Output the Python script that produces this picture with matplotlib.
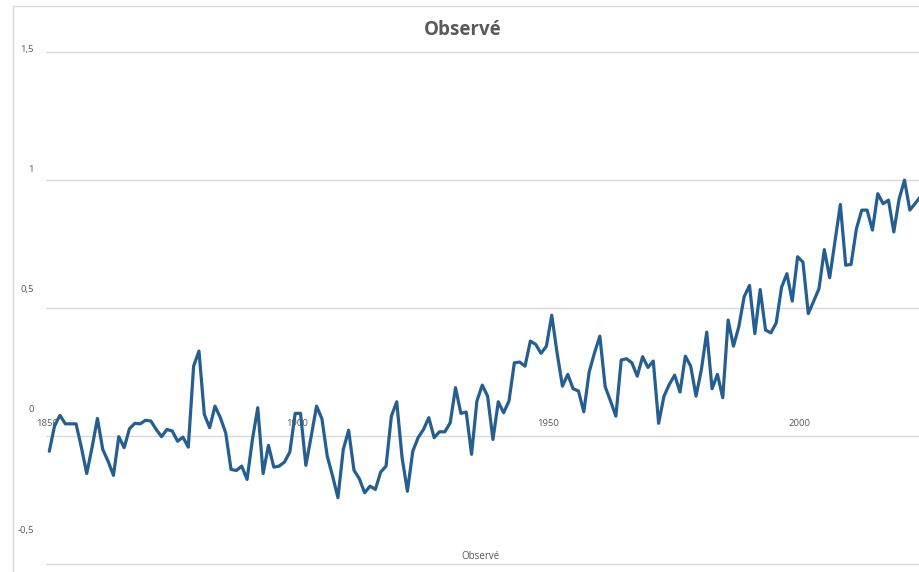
import numpy as np
import matplotlib
matplotlib.use("Agg")
import matplotlib.pyplot as plt
from matplotlib.lines import Line2D
import matplotlib.transforms as mtransforms

# ---- data ----
start_year = 1850
observe = [
    -0.059, 0.042, 0.081, 0.048, 0.048, 0.048, -0.044, -0.146, -0.044, 0.069,
    -0.052, -0.098, -0.153, -0.002, -0.045, 0.029, 0.050, 0.048, 0.062, 0.059,
    0.026, -0.002, 0.026, 0.020, -0.020, -0.004, -0.043, 0.273, 0.332, 0.085,
    0.033, 0.117, 0.072, 0.013, -0.130, -0.134, -0.117, -0.169, -0.013, 0.111,
    -0.146, -0.036, -0.121, -0.117, -0.101, -0.062, 0.089, 0.089, -0.114, 0.000,
    0.117, 0.068, -0.078, -0.156, -0.240, -0.052, 0.023, -0.133, -0.166, -0.221,
    -0.195, -0.208, -0.140, -0.117, 0.078, 0.134, -0.084, -0.215, -0.059, -0.006,
    0.026, 0.072, -0.006, 0.017, 0.017, 0.052, 0.189, 0.089, 0.094, -0.071,
    0.137, 0.199, 0.156, -0.013, 0.134, 0.091, 0.137, 0.286, 0.289, 0.273,
    0.371, 0.358, 0.323, 0.351, 0.472, 0.325, 0.195, 0.241, 0.185, 0.176,
    0.095, 0.250, 0.325, 0.390, 0.193, 0.137, 0.078, 0.297, 0.302, 0.286,
    0.234, 0.310, 0.268, 0.293, 0.050, 0.156, 0.202, 0.238, 0.172, 0.312,
    0.273, 0.156, 0.260, 0.406, 0.185, 0.241, 0.150, 0.453, 0.351, 0.427,
    0.544, 0.588, 0.400, 0.572, 0.414, 0.403, 0.442, 0.581, 0.634, 0.527,
    0.700, 0.679, 0.478, 0.527, 0.575, 0.728, 0.618, 0.761, 0.904, 0.667,
    0.670, 0.809, 0.882, 0.882, 0.804, 0.946, 0.907, 0.921, 0.797, 0.926,
    0.999, 0.882, 0.908, 0.935,
]
years = np.arange(start_year, start_year + len(observe))
y_ticks = [-0.5, 0, 0.5, 1, 1.5]
y_tick_labels = ["-0,5", "0", "0,5", "1", "1,5"]
x_tick_years = [1850, 1900, 1950, 2000]
series_name = "Observé"
title = "Observé"

# ---- style ----
plt.rcParams["font.family"] = ["Open Sans", "DejaVu Sans"]
line_color = "#255E91"
text_color = "#595959"
grid_color = "#D9D9D9"

W, H = 920, 572
fig = plt.figure(figsize=(W / 100, H / 100), dpi=100)
fig.patch.set_facecolor("white")

ax = fig.add_axes([46 / W, (572 - 569.4) / H, 874 / W, (569.4 - 46.6) / H])
ax.plot(years, observe, color=line_color, linewidth=2.3, zorder=3,
        solid_joinstyle="round", solid_capstyle="round")
ax.set_xlim(1849.38, 2012.9)
ax.set_ylim(-0.52, 1.52)
ax.set_yticks(y_ticks)
ax.set_yticklabels([])
ax.set_xticks([])
ax.tick_params(axis="y", length=0)
ax.grid(axis="y", color=grid_color, linewidth=1.0, zorder=0)
for s in ax.spines.values():
    s.set_visible(False)

# y labels (as rendered in the reference: slightly compressed scale)
ytrans = mtransforms.blended_transform_factory(ax.transAxes, ax.transData)
for v, lab in zip(y_ticks, y_tick_labels):
    ax.text(-12 / 874, 0.102 + 0.9374 * v, lab, transform=ytrans, ha="right",
            va="center", fontsize=6.8, color=text_color, clip_on=False)

# x labels
for yr in x_tick_years:
    ax.text(1849.51 + (yr - 1850) * 0.9384, 0.048, str(yr), ha="center",
            va="center", fontsize=6.8, color=text_color, zorder=2)

# axis title & chart title
fig.text(480.5 / W, 1 - 556.7 / H, series_name, ha="center", va="center",
         fontsize=7, color=text_color)
fig.text(463 / W, 1 - 30 / H, title, ha="center", va="center",
         fontsize=13.5, fontweight="bold", color=text_color)

# chart border fragments
fig.add_artist(Line2D([12.7 / W, 12.7 / W], [0, 1 - 5.5 / H],
                      transform=fig.transFigure, color=grid_color, linewidth=1.0))
fig.add_artist(Line2D([12.7 / W, 1], [1 - 5.5 / H, 1 - 5.5 / H],
                      transform=fig.transFigure, color=grid_color, linewidth=1.0))

fig.savefig("out.png", dpi=100, facecolor="white")
